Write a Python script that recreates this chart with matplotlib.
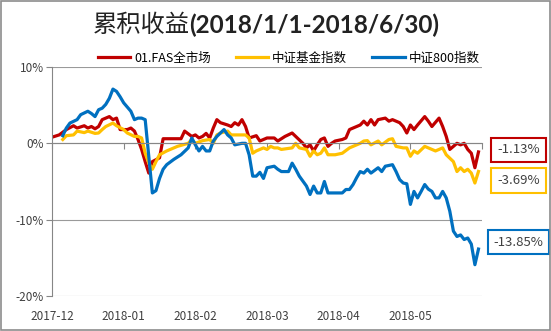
import matplotlib.pyplot as plt
from matplotlib.patches import Rectangle

plt.rcParams['font.family'] = ['Noto Sans CJK SC', 'DejaVu Sans']

# trading-day index (0..120) and cumulative return in %
fas_x = [0, 2, 4, 6, 7, 9, 10, 11, 12, 13, 14, 15, 16, 17, 18, 19, 21, 22, 23, 24,
         25, 26, 27, 28, 30, 31, 36, 37, 39, 40, 41, 42, 43, 44, 45, 46, 47, 49, 50,
         51, 52, 53, 54, 55, 57, 58, 59, 60, 62, 63, 65, 67, 68, 70, 71, 72, 73, 74,
         75, 76, 77, 78, 79, 81, 82, 83, 85, 86, 87, 88, 89, 90, 91, 93, 94, 95, 97,
         98, 99, 100, 101, 102, 104, 105, 106, 108, 109, 110, 111, 112, 113, 114, 115,
         116, 117, 118, 119]
fas_y = [0.8, 1.1, 1.8, 2.3, 2.0, 2.3, 2.0, 2.2, 1.9, 2.2, 3.1, 3.3, 3.5, 3.1, 3.3,
         1.8, 1.8, 2.0, 1.6, 0.5, -0.8, -2.4, -3.9, -2.4, -1.9, 0.6, 0.6, 1.6, 0.9,
         1.1, 0.7, 0.9, 1.3, 0.7, 2.0, 3.1, 2.7, 2.4, 2.2, 2.7, 2.4, 3.1, 2.2, 0.7,
         1.0, 0.3, 0.5, 0.7, 0.7, 0.3, 0.9, 1.35, 0.9, 0.0, -0.6, -0.2, -1.0, -0.2,
         0.5, 0.7, -0.4, 0.0, 0.3, 0.5, 0.7, 1.8, 2.2, 2.4, 2.9, 2.4, 3.1, 2.4, 3.1,
         3.3, 2.9, 3.1, 2.7, 2.2, 1.35, 2.4, 1.8, 2.4, 3.5, 2.9, 2.2, 3.3, 2.2, 0.9,
         -0.8, -0.4, 0.0, -0.2, 0.0, -0.8, -1.3, -3.2, -1.13]

fund_x = [3, 4, 6, 7, 9, 10, 12, 13, 14, 15, 17, 18, 20, 21, 23, 24, 25, 26, 27, 28,
          29, 30, 32, 35, 38, 39, 40, 42, 44, 45, 46, 47, 49, 50, 52, 54, 55, 56, 57,
          58, 59, 60, 61, 62, 63, 64, 67, 68, 69, 71, 72, 73, 74, 75, 76, 77, 79, 81,
          83, 85, 86, 87, 88, 89, 91, 92, 94, 95, 96, 98, 99, 100, 101, 102, 104, 106,
          107, 109, 110, 112, 113, 114, 115, 116, 117, 118, 119]
fund_y = [0.5, 1.0, 1.1, 1.6, 1.4, 1.6, 1.3, 1.35, 1.8, 2.2, 2.65, 2.3, 1.8, 1.35,
          0.9, 0.9, 0.7, -1.3, -2.6, -3.4, -2.4, -1.5, -1.0, -0.4, 0.0, 0.5, 0.0,
          0.35, 0.5, 0.0, 1.1, 1.35, 1.6, 1.1, 1.1, 1.1, 0.7, -1.3, -1.0, -0.8, -0.6,
          -0.8, -0.4, -0.6, -0.6, -0.8, -0.6, 0.0, -0.6, -0.8, -1.7, -1.0, -1.5, -1.3,
          -0.6, -1.5, -1.5, -1.3, -0.6, -0.2, 0.0, 0.3, 0.35, -0.2, 0.3, -0.2, 0.5,
          0.6, -0.4, -0.6, -0.6, -1.7, -1.0, -1.3, -0.4, -0.8, -1.0, -0.6, -1.5, -2.4,
          -3.7, -3.2, -3.7, -3.4, -3.9, -5.2, -3.69]

csi_x = [3, 4, 5, 7, 8, 10, 11, 12, 13, 14, 15, 16, 17, 18, 19, 20, 22, 23, 24, 25,
         26, 27, 28, 29, 30, 31, 32, 34, 36, 38, 39, 40, 41, 42, 43, 44, 45, 46, 47,
         48, 49, 50, 51, 53, 54, 55, 56, 57, 58, 59, 60, 62, 63, 64, 66, 67, 68, 69,
         71, 72, 73, 74, 75, 76, 77, 79, 81, 82, 83, 84, 85, 86, 87, 88, 89, 91, 92,
         93, 95, 96, 97, 98, 99, 100, 101, 102, 103, 104, 105, 106, 107, 108, 109,
         110, 111, 112, 113, 114, 115, 116, 117, 118, 119]
csi_y = [1.0, 2.0, 2.65, 3.1, 3.75, 4.2, 3.9, 3.5, 4.4, 4.6, 5.1, 5.9, 7.1, 6.8, 6.1,
         5.3, 4.2, 3.1, 3.3, 3.3, 3.1, -1.7, -6.5, -6.2, -4.6, -3.4, -2.8, -2.1,
         -1.5, -0.6, 0.7, -0.2, -1.0, -0.4, -1.0, -1.0, 0.3, 0.9, 1.35, 1.8, 1.1,
         0.7, -0.2, 0.0, 0.0, -1.5, -4.3, -4.3, -3.8, -4.6, -3.2, -3.0, -3.4, -3.7,
         -3.7, -2.6, -3.4, -4.3, -5.6, -6.7, -5.6, -6.5, -6.5, -5.0, -6.5, -6.5,
         -6.5, -6.05, -6.05, -5.4, -4.5, -3.7, -3.9, -3.4, -3.9, -3.2, -3.7, -3.0,
         -2.8, -3.7, -4.75, -5.2, -5.3, -8.0, -6.3, -7.15, -6.3, -5.4, -6.0, -6.3,
         -7.15, -7.15, -6.3, -7.15, -8.9, -11.5, -12.2, -12.0, -12.6, -12.4, -13.2,
         -15.9, -13.85]

series_names = ['01.FAS全市场', '中证基金指数', '中证800指数']
colors = ['#C00000', '#FFC000', '#0070C0']
end_labels = ['-1.13%', '-3.69%', '-13.85%']
month_labels = ['2017-12', '2018-01', '2018-02', '2018-03', '2018-04', '2018-05']
month_ticks = [0, 20, 40, 60, 80, 100]
y_ticks = [10, 0, -10, -20]

fig = plt.figure(figsize=(5.51, 3.31), dpi=100)
ax = fig.add_axes([0.0944, 0.1057, 0.7805, 0.692])

xs = [fas_x, fund_x, csi_x]
ys = [fas_y, fund_y, csi_y]
for x, y, c, name in zip(xs, ys, colors, series_names):
    ax.plot(x, y, color=c, lw=2.3, label=name, solid_joinstyle='round')

ax.set_xlim(0, 120)
ax.set_ylim(-20, 10)
ax.set_yticks(y_ticks)
ax.set_yticklabels([f'{v}%' for v in y_ticks], fontsize=8.5, color='#404040')
ax.yaxis.grid(True, color='#9a9a9a', lw=0.8)
ax.set_axisbelow(True)

for s in ['top', 'right']:
    ax.spines[s].set_visible(False)
ax.spines['left'].set_color('#868686')
ax.spines['bottom'].set_position(('data', 0))
ax.spines['bottom'].set_color('#868686')
ax.tick_params(axis='y', length=4, color='#868686', pad=2)
ax.set_xticks(month_ticks + [120])
ax.tick_params(axis='x', length=4, color='#868686', labelbottom=False)

sec = ax.secondary_xaxis('bottom')
sec.set_xticks(month_ticks)
sec.set_xticklabels(month_labels, fontsize=8.5, color='#404040')
sec.tick_params(length=0, pad=10)
sec.spines['bottom'].set_visible(False)

offsets = [(40, 2), (40, -9), (40, 7)]
for x, y, c, lab, off in zip(xs, ys, colors, end_labels, offsets):
    ax.annotate(lab, xy=(x[-1], y[-1]), xytext=off, textcoords='offset pixels',
                ha='center', va='center', fontsize=9.5, color='#404040',
                bbox=dict(boxstyle='square,pad=0.45', fc='white', ec=c, lw=1.5),
                annotation_clip=False)

ax.legend(loc='center', bbox_to_anchor=(0.524, 0.825), bbox_transform=fig.transFigure,
          ncol=3, frameon=False, fontsize=9, handlelength=2.6, handletextpad=0.3,
          columnspacing=2.0)

t1 = fig.text(0.168, 0.925, '累积收益', fontsize=17.5, ha='left', va='center',
              color='#222222')
ax.annotate('(2018/1/1-2018/6/30)', xy=(1, 0.5), xycoords=t1, fontsize=17.5,
            fontweight='bold', ha='left', va='center', color='#222222',
            family=['Lato', 'DejaVu Sans'], annotation_clip=False)

fig.patches.append(Rectangle((0.002, 0.004), 0.996, 0.992, transform=fig.transFigure,
                             fill=False, ec='#8c8c8c', lw=1.2))

fig.savefig('out.png', dpi=100)
